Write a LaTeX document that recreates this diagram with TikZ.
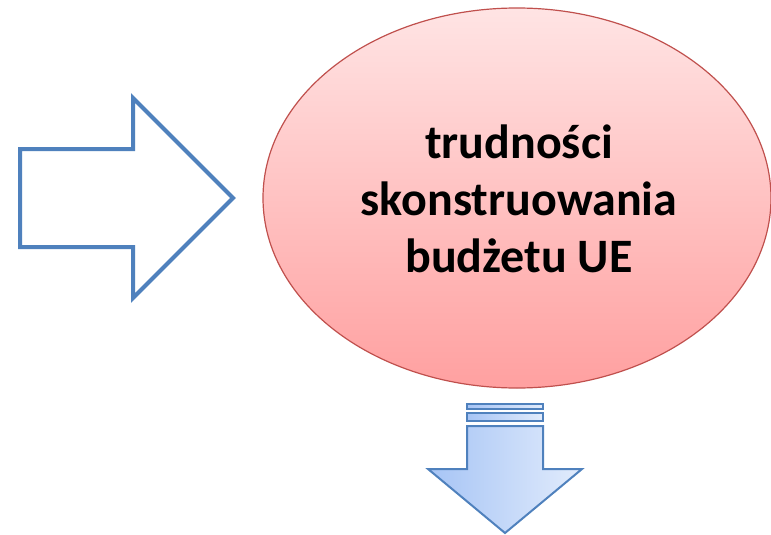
\documentclass[tikz,border=0pt]{standalone}
\usepackage{fontspec}
\setmainfont{Carlito}
\usetikzlibrary{shapes.geometric}
\definecolor{arrowblue}{RGB}{79,129,189}
\definecolor{ellborder}{RGB}{192,80,77}
\definecolor{elltop}{RGB}{255,228,228}
\definecolor{ellbot}{RGB}{255,160,160}
\definecolor{dleft}{RGB}{166,196,245}
\definecolor{dright}{RGB}{226,236,252}
\tikzset{
  outlinearrow/.style={draw=arrowblue, line width=4pt, line join=miter, fill=white},
  downarrow/.style={draw=arrowblue, line width=2pt, line join=miter, left color=dleft, right color=dright},
  bubble/.style={ellipse, draw=ellborder, line width=1.2pt, top color=elltop, bottom color=ellbot,
    minimum width=508pt, minimum height=380pt, inner sep=0pt},
  bubbletext/.style={align=center, font=\bfseries\fontsize{48}{57}\selectfont, inner sep=0pt}
}
\begin{document}
\begin{tikzpicture}[x=1pt,y=-1pt]
\useasboundingbox (0,0) rectangle (771,535);
% right arrow
\draw[outlinearrow] (20,149) -- (133,149) -- (133,98) -- (233,198) -- (133,298) -- (133,247) -- (20,247) -- cycle;
% ellipse
\node[bubble] (e) at (517,198) {};
\node[bubbletext] (t) at (519,199) {trudności\\skonstruowania\\budżetu UE};
% down arrow
\draw[downarrow] (467,404) rectangle (543,409);
\draw[downarrow] (467,413) rectangle (543,421);
\draw[downarrow] (467,426) -- (543,426) -- (543,469) -- (582,469) -- (505,533) -- (428,469) -- (467,469) -- cycle;
\end{tikzpicture}
\end{document}
